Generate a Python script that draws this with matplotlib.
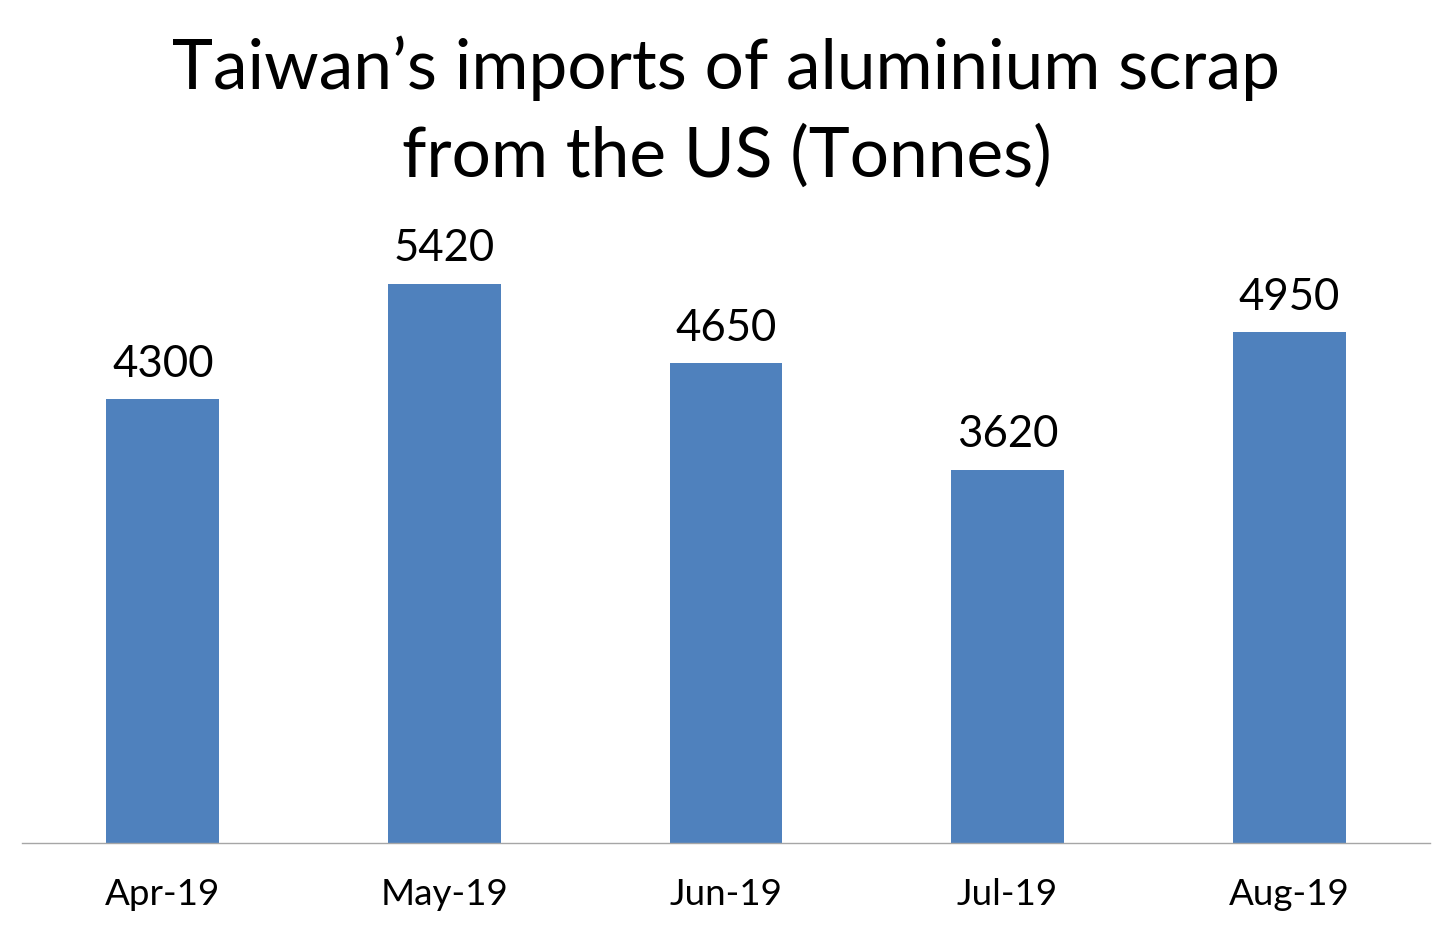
import matplotlib
matplotlib.use("Agg")
import matplotlib.pyplot as plt

months = ["Apr-19", "May-19", "Jun-19", "Jul-19", "Aug-19"]
tonnes = [4300, 5420, 4650, 3620, 4950]

plt.rcParams['font.family'] = ['Lato', 'DejaVu Sans']

fig = plt.figure(figsize=(14.53, 9.33), dpi=100)
ax = fig.add_axes([22 / 1453, 1 - 843 / 933, (1430 - 22) / 1453, 619 / 933])

x = list(range(len(months)))
bars = ax.bar(x, tonnes, width=0.4, color="#4F81BD")
for b, v in zip(bars, tonnes):
    ax.text(b.get_x() + b.get_width() / 2, v + 140, str(v),
            ha="center", va="bottom", fontsize=31.5)

ax.set_xlim(-0.5, len(months) - 0.5)
ax.set_ylim(0, 6000)
ax.set_xticks(x)
ax.set_xticklabels(months, fontsize=26.5)
ax.tick_params(axis="x", length=0, pad=25)
ax.set_yticks([])
for s in ["top", "right", "left"]:
    ax.spines[s].set_visible(False)
ax.spines["bottom"].set_color("#A6A6A6")
ax.spines["bottom"].set_linewidth(1)

fig.text(0.5, 1 - 112 / 933, "Taiwan’s imports of aluminium scrap\nfrom the US (Tonnes)",
         ha="center", va="center", fontsize=50, linespacing=1.45)

fig.savefig("out.png", dpi=100)
